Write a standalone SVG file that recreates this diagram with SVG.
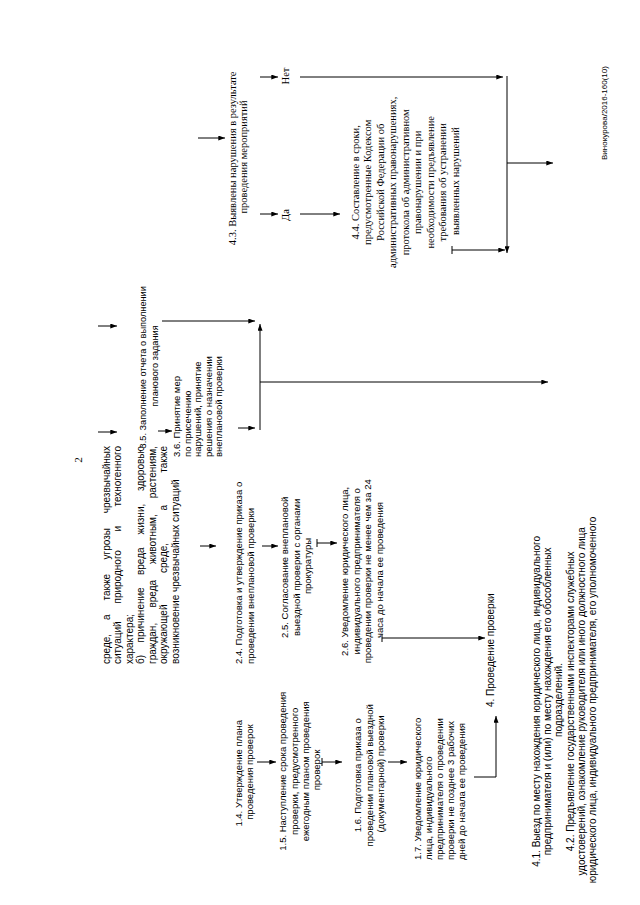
<svg xmlns="http://www.w3.org/2000/svg" width="640" height="905" viewBox="0 0 640 905">
<style>
.s{font-family:"Liberation Sans",Arial,sans-serif;font-size:9.5px;fill:#000}
.a{font-family:"Liberation Sans",Arial,sans-serif;font-size:10px;fill:#000}
.t{font-family:"Liberation Serif","Times New Roman",serif;font-size:10.5px;fill:#000}
.m{text-anchor:middle}
.e{text-anchor:end}
.c{stroke:#000;stroke-width:1;fill:none}
</style>
<defs>
<marker id="ah" viewBox="0 0 8 6" refX="8" refY="3" markerWidth="7" markerHeight="5" orient="auto" markerUnits="userSpaceOnUse"><path d="M0,0 L8,3 L0,6 z" fill="#000"/></marker>
</defs>
<rect width="640" height="905" fill="#fff"/>

<g id="page-number"><text class="t" transform="translate(81.5,460) rotate(-90)" text-anchor="middle" style="font-size:11px">2</text></g>

<g id="n-2-3-cont" transform="translate(109.5,664) rotate(-90)">
<text class="a" x="0" y="0">среде,</text><text class="a" x="44" y="0">а</text><text class="a" x="63.5" y="0">также</text><text class="a" x="104.5" y="0">угрозы</text><text class="a e" x="218" y="0">чрезвычайных</text>
<text class="a" x="0" y="11.5">ситуаций</text><text class="a" x="60.5" y="11.5">природного</text><text class="a" x="132.5" y="11.5">и</text><text class="a e" x="218" y="11.5">техногенного</text>
<text class="a" x="0" y="23">характера;</text>
<text class="a" x="0" y="34.5">б)</text><text class="a" x="21.5" y="34.5">причинение</text><text class="a" x="89" y="34.5">вреда</text><text class="a" x="129.5" y="34.5">жизни,</text><text class="a e" x="218" y="34.5">здоровью</text>
<text class="a" x="0" y="46">граждан,</text><text class="a" x="56.5" y="46">вреда</text><text class="a" x="100" y="46">животным,</text><text class="a e" x="218" y="46">растениям,</text>
<text class="a" x="0" y="57.5">окружающей</text><text class="a" x="91" y="57.5">среде,</text><text class="a" x="153.5" y="57.5">а</text><text class="a e" x="218" y="57.5">также</text>
<text class="a" x="0" y="69">возникновение чрезвычайных ситуаций</text>
</g>

<g id="n-3-5">
<text class="s m" transform="translate(146.3,366) rotate(-90)" style="font-size:9.2px">
<tspan x="0" y="0">3.5. Заполнение отчета о выполнении</tspan>
<tspan x="0" y="11.5">планового задания</tspan>
</text>
</g>

<g id="n-3-6">
<text class="s" transform="translate(180.3,457) rotate(-90)">
<tspan x="0" y="0">3.6. Принятие мер</tspan>
<tspan x="0" y="10.5">по присечению</tspan>
<tspan x="0" y="21">нарушений, принятие</tspan>
<tspan x="0" y="31.5">решения о назначении</tspan>
<tspan x="0" y="42">внеплановой проверки</tspan>
</text>
</g>

<g id="n-2-4">
<text class="s" transform="translate(242.3,664) rotate(-90)">
<tspan x="0" y="0">2.4. Подготовка и утверждение приказа о</tspan>
<tspan x="0" y="11.5">проведении внеплановой проверки</tspan>
</text>
</g>

<g id="n-2-5">
<text class="s m" transform="translate(288.3,566) rotate(-90)">
<tspan x="0" y="0">2.5. Согласование внеплановой</tspan>
<tspan x="0" y="11.5">выездной проверки с органами</tspan>
<tspan x="0" y="23">прокуратуры</tspan>
</text>
</g>

<g id="n-2-6">
<text class="s m" transform="translate(348.3,570) rotate(-90)">
<tspan x="0" y="0">2.6. Уведомление юридического лица,</tspan>
<tspan x="0" y="11.5">индивидуального предпринимателя о</tspan>
<tspan x="0" y="23">проведении проверки не менее чем за 24</tspan>
<tspan x="0" y="34.5">часа до начала ее проведения</tspan>
</text>
</g>

<g id="n-1-4">
<text class="s m" transform="translate(242.3,772) rotate(-90)">
<tspan x="0" y="0">1.4. Утверждение плана</tspan>
<tspan x="0" y="11">проведения проверок</tspan>
</text>
</g>

<g id="n-1-5">
<text class="s m" transform="translate(286.3,770) rotate(-90)">
<tspan x="0" y="0">1.5. Наступление срока проведения</tspan>
<tspan x="0" y="11.3">проверки, предусмотренного</tspan>
<tspan x="0" y="22.6">ежегодным планом проведения</tspan>
<tspan x="0" y="33.9">проверок</tspan>
</text>
</g>

<g id="n-1-6">
<text class="s m" transform="translate(361.3,774) rotate(-90)">
<tspan x="0" y="0">1.6. Подготовка приказа о</tspan>
<tspan x="0" y="11.5">проведении плановой выездной</tspan>
<tspan x="0" y="23">(документарной) проверки</tspan>
</text>
</g>

<g id="n-1-7">
<text class="s" transform="translate(421.3,860) rotate(-90)">
<tspan x="0" y="0">1.7. Уведомление юридического</tspan>
<tspan x="0" y="11">лица, индивидуального</tspan>
<tspan x="0" y="22">предпринимателя о проведении</tspan>
<tspan x="0" y="33">проверки не позднее 3 рабочих</tspan>
<tspan x="0" y="44">дней до начала ее проведения</tspan>
</text>
</g>

<g id="n-4">
<text class="a" transform="translate(493.5,707) rotate(-90)">4. Проведение проверки</text>
</g>

<g id="n-4-1">
<text class="a m" transform="translate(539.5,700) rotate(-90)">
<tspan x="0" y="0">4.1. Выезд по месту нахождения юридического лица, индивидуального</tspan>
<tspan x="0" y="11">предпринимателя и (или) по месту нахождения его обособленных</tspan>
<tspan x="0" y="22">подразделений.</tspan>
</text>
</g>

<g id="n-4-2">
<text class="a m" transform="translate(573.5,700) rotate(-90)">
<tspan x="0" y="0">4.2. Предъявление государственными инспекторами служебных</tspan>
<tspan x="0" y="11">удостоверений, ознакомление руководителя или иного должностного лица</tspan>
<tspan x="0" y="22">юридического лица, индивидуального предпринимателя, его уполномоченного</tspan>
</text>
</g>

<g id="n-4-3">
<text class="t m" transform="translate(235.7,157) rotate(-90)">
<tspan x="0" y="0">4.3. Выявлены нарушения в результате</tspan>
<tspan x="0" y="11">проведения мероприятий</tspan>
</text>
</g>

<g id="n-net"><text class="t m" transform="translate(288.7,76) rotate(-90)">Нет</text></g>
<g id="n-da"><text class="t m" transform="translate(288.7,215) rotate(-90)">Да</text></g>

<g id="n-4-4">
<text class="t m" transform="translate(358.7,181) rotate(-90)">
<tspan x="0" y="0">4.4. Составление в сроки,</tspan>
<tspan x="0" y="12.5">предусмотренные Кодексом</tspan>
<tspan x="0" y="25">Российской Федерации об</tspan>
<tspan x="0" y="37.5">административных правонарушениях,</tspan>
<tspan x="0" y="50">протокола об административном</tspan>
<tspan x="0" y="62.5">правонарушении и при</tspan>
<tspan x="0" y="75">необходимости предъявление</tspan>
<tspan x="0" y="87.5">требования об устранении</tspan>
<tspan x="0" y="100">выявленных нарушений</tspan>
</text>
</g>

<g id="footer-code"><text class="s" transform="translate(607,160) rotate(-90)" style="font-size:8px">Винокурова/2016-160(10)</text></g>

<g id="connectors" class="c">
<g marker-end="url(#ah)">
<path d="M257,762 H276"/>
<path d="M322,762 H342"/>
<path d="M388,762 H407"/>
<path d="M474,777 H496 V716"/>
<path d="M200,546 H216"/>
<path d="M262,546 H278"/>
<path d="M317,543 H337"/>
<path d="M382,638 H485"/>
<path d="M98,326 H117"/>
<path d="M98,432 H117"/>
<path d="M162,321 H255"/>
<path d="M158,431 H172"/>
<path d="M238,428 H255"/>
<path d="M260,430 V324"/>
<path d="M260,382 H548"/>
<path d="M198,138 H225"/>
<path d="M260,77 H278"/>
<path d="M300,77 H503"/>
<path d="M260,214 H278"/>
<path d="M300,214 H340"/>
<path d="M507,76 V253"/>
<path d="M452,250 H505"/>
<path d="M507,163 H553"/>
</g>
<path d="M322,758 V766"/>
<path d="M317,539 V547"/>
<path d="M382,634 V642"/>
<path d="M452,246 V254"/>
</g>
</svg>
